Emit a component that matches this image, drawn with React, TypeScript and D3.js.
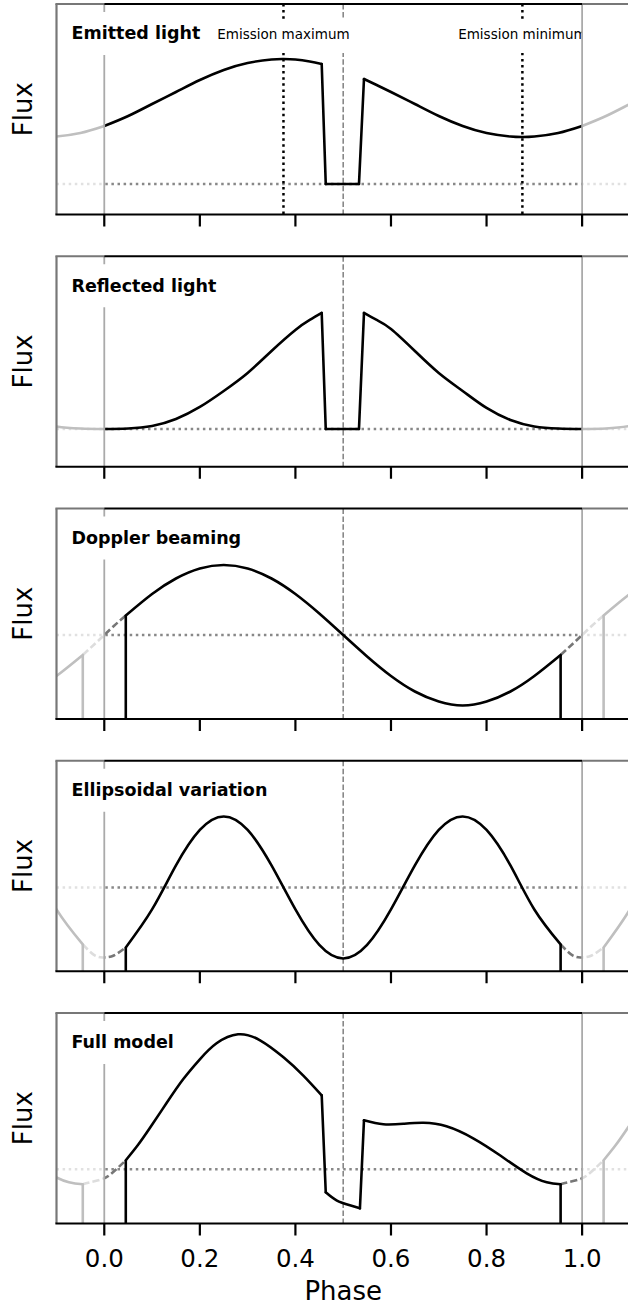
import React from "react";
import * as d3 from "d3";

// ---------- data ----------
const xDomain = [-0.1, 1.1];
const xTicks = [0, 0.2, 0.4, 0.6, 0.8, 1.0];
const xTickLabels = ["0.0", "0.2", "0.4", "0.6", "0.8", "1.0"];
const panelTitles = ["Emitted light", "Reflected light", "Doppler beaming", "Ellipsoidal variation", "Full model"];
const yLimits: [number, number][] = [
  [-0.305, 1.8],
  [-0.378, 1.727],
  [-0.84, 1.265],
  [-0.838, 1.267],
  [-0.542, 1.563],
];
const eclipseCentre = 0.5;
const baselineFlux = 0;

// Emitted light (one period)
const emittedPhase = [0, 0.05, 0.1, 0.15, 0.2, 0.25, 0.3, 0.35, 0.375, 0.4, 0.43, 0.455, 0.4635, 0.533, 0.5435, 0.57, 0.6, 0.65, 0.7, 0.75, 0.8, 0.85, 0.875, 0.9, 0.95, 1.0];
const emittedFlux = [0.58, 0.68, 0.8, 0.92, 1.04, 1.14, 1.21, 1.245, 1.25, 1.245, 1.225, 1.2, 0, 0, 1.05, 0.99, 0.92, 0.8, 0.68, 0.58, 0.51, 0.475, 0.47, 0.475, 0.51, 0.58];
const emittedCorners = [0.455, 0.4635, 0.533, 0.5435];
const emissionMarkPhase = [0.375, 0.875];
const emissionMarkLabels = ["Emission maximum", "Emission minimum"];

// Reflected light (one period)
const reflectedPhase = [0, 0.05, 0.1, 0.15, 0.2, 0.25, 0.3, 0.35, 0.4, 0.43, 0.455, 0.4635, 0.533, 0.5435, 0.57, 0.6, 0.65, 0.7, 0.75, 0.8, 0.85, 0.9, 0.95, 1.0];
const reflectedFlux = [0, 0.005, 0.03, 0.1, 0.22, 0.38, 0.56, 0.78, 0.99, 1.09, 1.16, 0, 0, 1.16, 1.09, 1.0, 0.78, 0.56, 0.38, 0.21, 0.09, 0.025, 0.005, 0];
const reflectedCorners = [0.455, 0.4635, 0.533, 0.5435];

// Doppler beaming
const dopplerPhase = [0.045, 0.1, 0.15, 0.2, 0.25, 0.3, 0.35, 0.4, 0.45, 0.5, 0.55, 0.6, 0.65, 0.7, 0.75, 0.8, 0.85, 0.9, 0.955];
const dopplerFlux = [0.195, 0.41, 0.565, 0.665, 0.7, 0.665, 0.565, 0.41, 0.215, 0, -0.215, -0.41, -0.565, -0.665, -0.705, -0.665, -0.565, -0.41, -0.2];
const dopplerGapPhase = [-0.045, -0.02, 0, 0.02, 0.045];
const dopplerGapFlux = [-0.2, -0.09, 0, 0.09, 0.195];

// Ellipsoidal variation
const ellipPhase = [0.045, 0.1, 0.15, 0.2, 0.25, 0.3, 0.35, 0.4, 0.45, 0.5, 0.55, 0.6, 0.65, 0.7, 0.75, 0.8, 0.85, 0.9, 0.955];
const ellipFlux = [-0.6, -0.22, 0.22, 0.575, 0.71, 0.575, 0.22, -0.22, -0.575, -0.71, -0.575, -0.22, 0.22, 0.575, 0.71, 0.575, 0.22, -0.22, -0.57];
const ellipGapPhase = [-0.045, -0.02, 0, 0.02, 0.045];
const ellipGapFlux = [-0.57, -0.68, -0.7, -0.68, -0.6];

// Full model
const fullPhase = [0.045, 0.07, 0.095, 0.13, 0.165, 0.2, 0.235, 0.28, 0.326, 0.375, 0.416, 0.455, 0.4635, 0.486, 0.514, 0.535, 0.5435, 0.584, 0.626, 0.668, 0.716, 0.772, 0.828, 0.884, 0.926, 0.955];
const fullFlux = [0.09, 0.24, 0.41, 0.66, 0.9, 1.1, 1.26, 1.35, 1.29, 1.12, 0.94, 0.74, -0.23, -0.31, -0.36, -0.39, 0.49, 0.45, 0.455, 0.465, 0.43, 0.31, 0.14, -0.04, -0.13, -0.15];
const fullCorners = [0.455, 0.4635, 0.535, 0.5435];
const fullGapPhase = [-0.045, -0.03, 0, 0.025, 0.045];
const fullGapFlux = [-0.15, -0.13, -0.09, 0.0, 0.09];

type Pt = [number, number];
const zip = (a: number[], b: number[]): Pt[] => a.map((v, k) => [v, b[k]] as Pt);

interface PanelSpec {
  main: Pt[];
  corners: number[];
  gap?: Pt[];
  drops: boolean;
  marks?: boolean;
}

const panels: PanelSpec[] = [
  { main: zip(emittedPhase, emittedFlux), corners: emittedCorners, drops: false, marks: true },
  { main: zip(reflectedPhase, reflectedFlux), corners: reflectedCorners, drops: false },
  { main: zip(dopplerPhase, dopplerFlux), corners: [], gap: zip(dopplerGapPhase, dopplerGapFlux), drops: true },
  { main: zip(ellipPhase, ellipFlux), corners: [], gap: zip(ellipGapPhase, ellipGapFlux), drops: true },
  { main: zip(fullPhase, fullFlux), corners: fullCorners, gap: zip(fullGapPhase, fullGapFlux), drops: true },
];

// split a series into smooth pieces at its sharp corners (corner shared by both pieces)
function splitAtCorners(pts: Pt[], corners: number[]): Pt[][] {
  const out: Pt[][] = [];
  let cur: Pt[] = [];
  pts.forEach((p) => {
    cur.push(p);
    if (corners.some((c) => Math.abs(c - p[0]) < 1e-9)) {
      if (cur.length > 1) out.push(cur);
      cur = [p];
    }
  });
  if (cur.length > 1) out.push(cur);
  return out;
}

// ---------- layout ----------
const W = 628;
const H = 1309;
const PANEL_TOP = 4;
const PANEL_STEP = 252.25;
const PANEL_H = 210.5;
const FONT = "'DejaVu Sans', 'Liberation Sans', sans-serif";
const LW = 2.6;

let _ctx: CanvasRenderingContext2D | null = null;
function textWidth(s: string, font: string): number {
  if (!_ctx) {
    const c = document.createElement("canvas");
    _ctx = c.getContext("2d");
  }
  if (!_ctx) return s.length * 8;
  _ctx.font = font;
  return _ctx.measureText(s).width;
}

const SHIFTS = [-1, 0, 1];

function Panel({ spec, i, x }: { spec: PanelSpec; i: number; x: d3.ScaleLinear<number, number> }) {
  const top = PANEL_TOP + i * PANEL_STEP;
  const bottom = top + PANEL_H;
  const y = d3.scaleLinear().domain(yLimits[i]).range([bottom, top]);
  const line = d3
    .line<Pt>()
    .x((d) => x(d[0]))
    .y((d) => y(d[1]))
    .curve(d3.curveNatural);
  const shift = (pts: Pt[], s: number): Pt[] => pts.map((d) => [d[0] + s, d[1]] as Pt);
  const [xl, xr] = x.range();
  const x0 = x(0);
  const x1 = x(1);
  const clipId = `clip-${i}`;
  const annClipId = `annclip-${i}`;

  const titleFont = `bold 17.5px ${FONT}`;
  const tW = textWidth(panelTitles[i], titleFont);
  const annFont = `13.5px ${FONT}`;

  const pieces = splitAtCorners(spec.main, spec.corners);
  const mainFirst = spec.main[0];
  const mainLast = spec.main[spec.main.length - 1];

  return (
    <g>
      <defs>
        <clipPath id={clipId}>
          <rect x={xl} y={top} width={xr - xl} height={bottom - top} />
        </clipPath>
        <clipPath id={annClipId}>
          <rect x={xl} y={top} width={x1 - xl} height={bottom - top} />
        </clipPath>
      </defs>
      <g clipPath={`url(#${clipId})`}>
        <line x1={x(eclipseCentre)} x2={x(eclipseCentre)} y1={top} y2={bottom} stroke="#888" strokeWidth={1.6} strokeDasharray="5.5,2.4" />
        <line x1={xl} x2={xr} y1={y(baselineFlux)} y2={y(baselineFlux)} stroke="#888" strokeWidth={2.5} strokeDasharray="2.5,3.6" />
        {spec.marks &&
          emissionMarkPhase.map((m, k) => (
            <line key={k} x1={x(m)} x2={x(m)} y1={top} y2={bottom} stroke="#000" strokeWidth={2.5} strokeDasharray="2.5,3.6" />
          ))}
        {spec.gap &&
          SHIFTS.map((s) => (
            <path key={`g${s}`} d={line(shift(spec.gap!, s)) || ""} fill="none" stroke="#777" strokeWidth={LW} strokeDasharray="7,3.2" />
          ))}
        {SHIFTS.map((s) =>
          pieces.map((pc, k) => (
            <path
              key={`m${s}-${k}`}
              d={line(shift(pc, s)) || ""}
              fill="none"
              stroke="#000"
              strokeWidth={LW}
              strokeLinejoin="round"
              strokeLinecap="round"
            />
          ))
        )}
        {spec.drops &&
          SHIFTS.map((s) => (
            <g key={`d${s}`}>
              <line x1={x(mainFirst[0] + s)} x2={x(mainFirst[0] + s)} y1={y(mainFirst[1])} y2={bottom} stroke="#000" strokeWidth={LW} />
              <line x1={x(mainLast[0] + s)} x2={x(mainLast[0] + s)} y1={y(mainLast[1])} y2={bottom} stroke="#000" strokeWidth={LW} />
            </g>
          ))}
        <rect x={xl} y={top} width={x0 - xl} height={bottom - top} fill="#fff" fillOpacity={0.75} />
        <rect x={x1} y={top} width={xr - x1} height={bottom - top} fill="#fff" fillOpacity={0.75} />
      </g>
      {spec.marks && (
        <g clipPath={`url(#${annClipId})`}>
          {emissionMarkPhase.map((m, k) => {
            const w = textWidth(emissionMarkLabels[k], annFont);
            return (
              <g key={k}>
                <rect x={x(m) - w / 2 - 8} y={top + 15} width={w + 16} height={34} fill="#fff" />
                <text x={x(m)} y={top + 35} textAnchor="middle" fontSize={13.5} fill="#000">
                  {emissionMarkLabels[k]}
                </text>
              </g>
            );
          })}
        </g>
      )}
      <line x1={x0} x2={x0} y1={top} y2={bottom} stroke="#aaa" strokeWidth={1.8} />
      <line x1={x1} x2={x1} y1={top} y2={bottom} stroke="#aaa" strokeWidth={1.8} />
      <rect x={62} y={top + 8} width={tW + 19} height={43} fill="#fff" />
      <text x={71.5} y={top + 35.3} fontSize={17.5} fontWeight="bold" fill="#000">
        {panelTitles[i]}
      </text>
      <line x1={xl} x2={xl} y1={top} y2={bottom} stroke="#777" strokeWidth={2.2} />
      <line x1={xr} x2={xr} y1={top} y2={bottom} stroke="#777" strokeWidth={2.2} />
      <line x1={xl - 1.1} x2={x0} y1={top} y2={top} stroke="#777" strokeWidth={2.2} />
      <line x1={x1} x2={xr + 1.1} y1={top} y2={top} stroke="#777" strokeWidth={2.2} />
      <line x1={x0} x2={x1} y1={top} y2={top} stroke="#000" strokeWidth={2.2} />
      <line x1={xl - 1.1} x2={xr + 1.1} y1={bottom} y2={bottom} stroke="#000" strokeWidth={2.2} />
      {xTicks.map((t) => (
        <line key={t} x1={x(t)} x2={x(t)} y1={bottom} y2={bottom + 12} stroke="#000" strokeWidth={2.2} />
      ))}
      <text transform={`translate(31.7, ${(top + bottom) / 2}) rotate(-90)`} textAnchor="middle" fontSize={26} fill="#000">
        Flux
      </text>
    </g>
  );
}

export default function App() {
  const x = d3.scaleLinear().domain(xDomain).range([56.5, 629.9]);
  const lastBottom = PANEL_TOP + (panels.length - 1) * PANEL_STEP + PANEL_H;
  const [xl, xr] = x.range();
  return (
    <svg
      width={W}
      height={H}
      viewBox={`0 0 ${W} ${H}`}
      style={{ position: "absolute", left: 0, top: 0, background: "#fff" }}
      fontFamily={FONT}
    >
      <rect x={0} y={0} width={W} height={H} fill="#fff" />
      {panels.map((p, i) => (
        <Panel key={i} spec={p} i={i} x={x} />
      ))}
      {xTicks.map((t, k) => (
        <text key={t} x={x(t)} y={lastBottom + 43} textAnchor="middle" fontSize={24.5} fill="#000">
          {xTickLabels[k]}
        </text>
      ))}
      <text x={(xl + xr) / 2} y={1300} textAnchor="middle" fontSize={26} fill="#000">
        Phase
      </text>
    </svg>
  );
}
